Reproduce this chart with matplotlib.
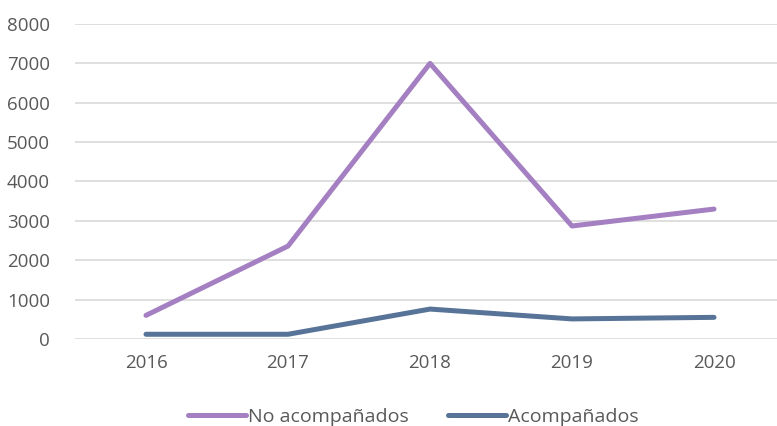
import matplotlib
matplotlib.use('Agg')
import matplotlib.pyplot as plt

# data
years = ['2016', '2017', '2018', '2019', '2020']
no_acomp = [600, 2360, 7000, 2870, 3300]
acomp = [120, 120, 760, 510, 550]

plt.rcParams['font.family'] = ['Open Sans', 'DejaVu Sans']

fig = plt.figure(figsize=(7.77, 4.26), dpi=100)
W, H = 777, 426
ax = fig.add_axes([75 / W, (H - 339) / H, 710 / W, 315 / H])

x = list(range(len(years)))
ax.plot(x, no_acomp, color='#A47FC1', lw=3.6, solid_capstyle='round', label='No acompañados')
ax.plot(x, acomp, color='#587398', lw=3.6, solid_capstyle='round', label='Acompañados')

ax.set_xlim(-0.5, 4.5)
ax.set_ylim(0, 8000)
ax.set_yticks(range(0, 8001, 1000))
ax.set_xticks(x)
ax.set_xticklabels(years)
ax.grid(axis='y', color='#D9D9D9', lw=1.2)
ax.set_axisbelow(True)
for s in ax.spines.values():
    s.set_visible(False)
ax.tick_params(length=0, labelsize=13.5, labelcolor='#595959')
ax.tick_params(axis='y', pad=18)
ax.tick_params(axis='x', pad=11)

fig.legend(loc='center', bbox_to_anchor=(413 / W, (H - 417) / H), ncol=2, frameon=False,
           fontsize=14, labelcolor='#595959', handlelength=3.0, handletextpad=0.1,
           columnspacing=2.0)

fig.savefig('out.png', dpi=100)
